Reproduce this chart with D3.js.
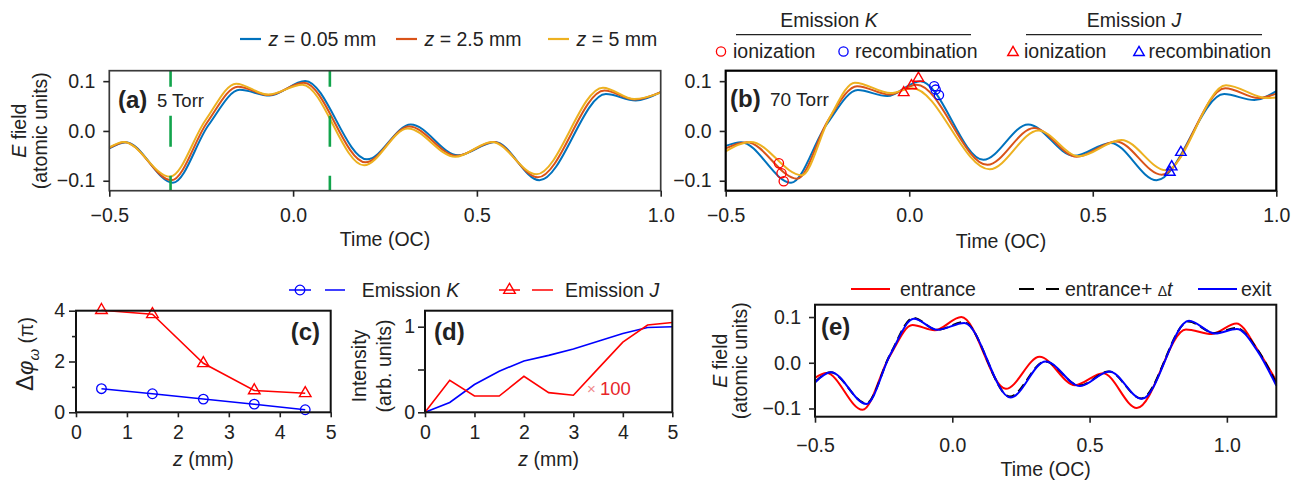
<!DOCTYPE html>
<html>
<head>
<meta charset="utf-8">
<script src="https://cdn.jsdelivr.net/npm/d3@7"></script>
<style>
  body { margin: 0; background: #fff; }
  svg { font-family: "Liberation Sans", Arial, sans-serif; }
</style>
</head>
<body>
<script>
// ---- data ----
const tTicks = [-0.5, 0, 0.5, 1.0];
const eTicks = [-0.1, 0, 0.1];
const zTicks = [0, 1, 2, 3, 4, 5];
const zNames = ["0.05 mm", "2.5 mm", "5 mm"];
const zColors = ["#0072bd", "#d95319", "#edb120"];
const markTimes = [-1 / 3, 0.1];   // green dashed lines in (a)

// (a) 5 Torr : [time (OC), E (a.u.)]
const a_z005 = [[-0.5,-0.035],[-0.455,-0.0225],[-0.327,-0.104],[-0.23,0.012],[-0.145,0.0825],[-0.064,0.071],[0.033,0.1005],[0.201,-0.057],[0.32,0.013],[0.449,-0.049],[0.549,-0.022],[0.67,-0.099],[0.851,0.074],[0.932,0.061],[1.0,0.078]];
const a_z25 = [[-0.5,-0.034],[-0.458,-0.0225],[-0.331,-0.099],[-0.234,0.017],[-0.15,0.089],[-0.066,0.072],[0.029,0.097],[0.197,-0.063],[0.316,0.009],[0.445,-0.05],[0.545,-0.022],[0.666,-0.093],[0.847,0.081],[0.93,0.063],[1.0,0.078]];
const a_z5 = [[-0.5,-0.033],[-0.461,-0.022],[-0.335,-0.092],[-0.238,0.022],[-0.155,0.095],[-0.068,0.073],[0.025,0.093],[0.193,-0.069],[0.312,0.005],[0.441,-0.052],[0.541,-0.022],[0.662,-0.087],[0.843,0.087],[0.928,0.064],[1.0,0.077]];

// (b) 70 Torr
const b_z005 = [[-0.5,-0.03],[-0.458,-0.0225],[-0.322,-0.104],[-0.226,0.012],[-0.14,0.082],[-0.06,0.07],[0.03,0.1],[0.202,-0.058],[0.324,0.013],[0.449,-0.05],[0.549,-0.024],[0.674,-0.099],[0.858,0.074],[0.94,0.062],[1.0,0.08]];
const b_z25 = [[-0.5,-0.035],[-0.443,-0.0225],[-0.305,-0.096],[-0.222,0.02],[-0.142,0.09],[-0.053,0.073],[0.02,0.093],[0.213,-0.068],[0.34,0.006],[0.456,-0.052],[0.563,-0.021],[0.688,-0.088],[0.861,0.086],[0.952,0.066],[1.0,0.075]];
const b_z5 = [[-0.5,-0.041],[-0.432,-0.022],[-0.293,-0.089],[-0.218,0.025],[-0.148,0.097],[-0.05,0.076],[0.008,0.086],[0.219,-0.077],[0.352,0.001],[0.462,-0.051],[0.578,-0.018],[0.699,-0.079],[0.863,0.092],[0.975,0.066],[1.0,0.067]];

// (b) markers
const kIon = [[-0.355,-0.065],[-0.348,-0.085],[-0.342,-0.101]];
const kRec = [[0.068,0.09],[0.072,0.083],[0.081,0.072]];
const jIon = [[-0.015,0.077],[0.006,0.091],[0.025,0.106]];
const jRec = [[0.71,-0.083],[0.715,-0.072],[0.74,-0.043]];

// (c) phase spread vs z
const cZ = [0.5, 1.5, 2.5, 3.5, 4.5];
const cK = [0.93, 0.73, 0.52, 0.32, 0.1];
const cJ = [4.02, 3.86, 1.93, 0.86, 0.75];

// (d) intensity vs z
const dZ = [0, 0.5, 1, 1.5, 2, 2.5, 3, 3.5, 4, 4.5, 5];
const dK = [0, 0.115, 0.325, 0.48, 0.6, 0.665, 0.74, 0.83, 0.92, 0.99, 1.0];
const dJ = [0, 0.375, 0.19, 0.19, 0.42, 0.23, 0.2, 0.51, 0.82, 1.02, 1.05];

// (e) entrance / entrance+dt / exit
const eEntr = [[-0.5,-0.033],[-0.458,-0.0225],[-0.327,-0.103],[-0.23,0.012],[-0.145,0.0825],[-0.064,0.071],[0.033,0.1],[0.195,-0.057],[0.318,0.013],[0.447,-0.049],[0.549,-0.023],[0.672,-0.099],[0.851,0.073],[0.945,0.063],[1.035,0.086],[1.11,0.03],[1.18,-0.04]];
const eShift = [[-0.5,-0.042],[-0.443,-0.021],[-0.314,-0.089],[-0.225,0.02],[-0.142,0.098],[-0.055,0.072],[0.042,0.089],[0.21,-0.074],[0.338,0.003],[0.463,-0.05],[0.57,-0.019],[0.688,-0.078],[0.86,0.09],[0.955,0.065],[1.034,0.076],[1.11,0.03],[1.18,-0.045]];
const eExit = [[-0.5,-0.043],[-0.442,-0.021],[-0.313,-0.09],[-0.225,0.019],[-0.14,0.096],[-0.054,0.072],[0.044,0.087],[0.212,-0.076],[0.34,0.003],[0.465,-0.051],[0.572,-0.019],[0.69,-0.079],[0.862,0.092],[0.957,0.064],[1.036,0.074],[1.11,0.027],[1.18,-0.05]];

// ---- drawing ----
const FS = 19.5;
const svg = d3.select("body").append("svg")
  .attr("width", 1300).attr("height", 485)
  .style("background", "#fff");

function panel(l, r, t, b, xd, yd) {
  return {
    l, r, t, b,
    x: d3.scaleLinear().domain(xd).range([l, r]),
    y: d3.scaleLinear().domain(yd).range([b, t])
  };
}

const pA = panel(109.3, 660.7, 70.7, 190.7, [-0.5, 1.0], [-0.12, 0.121]);
const pB = panel(725.7, 1276.3, 70.7, 190.7, [-0.5, 1.0], [-0.12, 0.121]);
const pC = panel(76, 330.7, 310.7, 412.3, [0, 5], [0, 4]);
const pD = panel(425, 672.3, 310.7, 412.3, [0, 5], [0, 1.187]);
const pE = panel(815, 1276.3, 304.7, 416.7, [-0.5, 1.18], [-0.118, 0.127]);

function tidy(g) {
  g.attr("font-family", null).attr("font-size", FS);
  g.select(".domain").remove();
  g.selectAll("line").attr("stroke", "#222").attr("stroke-width", 1.6);
  g.selectAll("text").attr("fill", "#222");
  return g;
}

function xAxis(p, ticks, fmt, size, pad) {
  tidy(svg.append("g").attr("transform", `translate(0,${p.b})`)
    .call(d3.axisBottom(p.x).tickValues(ticks).tickFormat(fmt).tickSize(size).tickPadding(pad)));
}
function yAxis(p, ticks, fmt, size, pad) {
  tidy(svg.append("g").attr("transform", `translate(${p.l},0)`)
    .call(d3.axisLeft(p.y).tickValues(ticks).tickFormat(fmt).tickSize(size).tickPadding(pad)));
}

function frame(p, col, w) {
  svg.append("rect").attr("x", p.l).attr("y", p.t)
    .attr("width", p.r - p.l).attr("height", p.b - p.t)
    .attr("fill", "none").attr("stroke", col).attr("stroke-width", w);
}

function curve(p, data, col, w, dash) {
  const line = d3.line().x(d => p.x(d[0])).y(d => p.y(d[1])).curve(d3.curveMonotoneX);
  svg.append("path").datum(data).attr("d", line)
    .attr("fill", "none").attr("stroke", col).attr("stroke-width", w)
    .attr("stroke-dasharray", dash || null);
}

function polyline(p, xs, ys, col, w) {
  const line = d3.line().x(d => p.x(d[0])).y(d => p.y(d[1]));
  svg.append("path").datum(xs.map((v, i) => [v, ys[i]])).attr("d", line)
    .attr("fill", "none").attr("stroke", col).attr("stroke-width", w);
}

function circles(p, pts, col, r) {
  svg.append("g").selectAll("circle").data(pts).join("circle")
    .attr("cx", d => p.x(d[0])).attr("cy", d => p.y(d[1])).attr("r", r)
    .attr("fill", "none").attr("stroke", col).attr("stroke-width", 1.3);
}
function triangles(p, pts, col, area) {
  svg.append("g").selectAll("path").data(pts).join("path")
    .attr("d", d3.symbol(d3.symbolTriangle, area))
    .attr("transform", d => `translate(${p.x(d[0])},${p.y(d[1])})`)
    .attr("fill", "none").attr("stroke", col).attr("stroke-width", 1.4);
}

function text(x, y, str, opt = {}) {
  const t = svg.append("text").attr("x", x).attr("y", y).text(str)
    .attr("font-size", opt.size || FS).attr("fill", opt.fill || "#222")
    .attr("text-anchor", opt.anchor || "start");
  if (opt.bold) t.attr("font-weight", "bold");
  return t;
}

const f1 = d3.format(".1f"), fInt = d3.format("d");
const px = { x: v => v, y: v => v };   // identity, for legend symbols

// ---------- panel (a) ----------
[a_z005, a_z25, a_z5].forEach((d, i) => curve(pA, d, zColors[i], 2));
svg.append("g").selectAll("line").data(markTimes).join("line")
  .attr("x1", d => pA.x(d)).attr("x2", d => pA.x(d))
  .attr("y1", pA.t).attr("y2", pA.b)
  .attr("stroke", "#12a44c").attr("stroke-width", 2.6)
  .attr("stroke-dasharray", "31,29").attr("stroke-dashoffset", 15);
frame(pA, "#3a3a3a", 1.7);
xAxis(pA, tTicks, f1, 6, 11.5);
yAxis(pA, eTicks, f1, 6, 8);
text(118, 108, "(a)", { size: 24, bold: true });
text(157, 107, "5 Torr", { size: 18.5 });

// legend of z
const zLegX = [240, 396, 548];
zLegX.forEach((x, i) => {
  svg.append("line").attr("x1", x).attr("x2", x + 21).attr("y1", 39).attr("y2", 39)
    .attr("stroke", zColors[i]).attr("stroke-width", 2.2);
  const t = text(x + 28.5, 46, "");
  t.append("tspan").attr("font-style", "italic").text("z");
  t.append("tspan").text(" = " + zNames[i]);
});

// ---------- panel (b) ----------
[b_z005, b_z25, b_z5].forEach((d, i) => curve(pB, d, zColors[i], 2));
circles(pB, kIon, "#ff0000", 4.6);
circles(pB, kRec, "#0000ff", 4.6);
triangles(pB, jIon, "#ff0000", 48);
triangles(pB, jRec, "#0000ff", 48);
frame(pB, "#000", 2.2);
xAxis(pB, tTicks, f1, 6, 11.5);
yAxis(pB, eTicks, f1, 6, 8);
text(730, 107, "(b)", { size: 24, bold: true });
text(770, 106, "70 Torr", { size: 19 });

// legend (b)
[[829, 736, 971, "K"], [1134, 1026, 1262, "J"]].forEach(([cx, x1, x2, s]) => {
  const t = text(cx, 27, "Emission ", { anchor: "middle" });
  t.append("tspan").attr("font-style", "italic").text(s);
  svg.append("line").attr("x1", x1).attr("x2", x2).attr("y1", 34.7).attr("y2", 34.7)
    .attr("stroke", "#222").attr("stroke-width", 1.2);
});
const legY = 51.5;
circles(px, [[721, legY]], "#ff0000", 4.6);
circles(px, [[843.5, legY]], "#0000ff", 4.6);
triangles(px, [[1013, legY + 1]], "#ff0000", 48);
triangles(px, [[1139, legY + 1]], "#0000ff", 48);
text(733, 58, "ionization");
text(855, 58, "recombination");
text(1024, 58, "ionization");
text(1148.5, 58, "recombination");

// ---------- panel (c) ----------
polyline(pC, cZ, cK, "#0000ff", 1.5);
polyline(pC, cZ, cJ, "#ff0000", 1.5);
circles(pC, cZ.map((z, i) => [z, cK[i]]), "#0000ff", 4.8);
triangles(pC, cZ.map((z, i) => [z, cJ[i]]), "#ff0000", 58);
frame(pC, "#111", 2);
xAxis(pC, zTicks, fInt, 5, 8);
yAxis(pC, [0, 2, 4], fInt, 7, 4);
yAxis(pC, [1, 3], "", 4, 0);
text(320, 340, "(c)", { size: 24, bold: true, anchor: "end" });

// ---------- panel (d) ----------
polyline(pD, dZ, dK, "#0000ff", 1.6);
polyline(pD, dZ, dJ, "#ff0000", 1.6);
frame(pD, "#111", 2);
xAxis(pD, zTicks, fInt, 5, 8);
yAxis(pD, [0, 1], fInt, 7, 3);
yAxis(pD, [0.5], "", 7, 0);
text(434, 340, "(d)", { size: 24, bold: true });
text(587, 394, "\u00d7", { size: 15, fill: "#f08a8a" });
text(600, 395, "100", { size: 18.5, fill: "#e8262a" });

// legend (c)/(d)
const ly = 290;
[[289, 311, 325, 345, "#0000ff"], [499, 520, 532, 553, "#ff0000"]].forEach(([a, b, c, d, col]) => {
  svg.append("line").attr("x1", a).attr("x2", b).attr("y1", ly).attr("y2", ly).attr("stroke", col).attr("stroke-width", 1.5);
  svg.append("line").attr("x1", c).attr("x2", d).attr("y1", ly).attr("y2", ly).attr("stroke", col).attr("stroke-width", 1.5);
});
circles(px, [[300, ly]], "#0000ff", 4.8);
triangles(px, [[509.5, ly]], "#ff0000", 58);
{
  const t1 = text(361.7, 297, "Emission ");
  t1.append("tspan").attr("font-style", "italic").text("K");
  const t2 = text(565, 297, "Emission ");
  t2.append("tspan").attr("font-style", "italic").text("J");
}

// ---------- panel (e) ----------
curve(pE, eEntr, "#ff0000", 2);
curve(pE, eShift, "#000", 2, "9,5");
curve(pE, eExit, "#0000ff", 2);
frame(pE, "#111", 2);
xAxis(pE, tTicks, f1, 6, 15);
yAxis(pE, eTicks, f1, 6, 8);
text(821, 335, "(e)", { size: 24, bold: true });

// legend (e)
const ey = 289;
svg.append("line").attr("x1", 851).attr("x2", 890).attr("y1", ey).attr("y2", ey).attr("stroke", "#ff0000").attr("stroke-width", 2);
svg.append("line").attr("x1", 1019).attr("x2", 1059).attr("y1", ey).attr("y2", ey).attr("stroke", "#000").attr("stroke-width", 2).attr("stroke-dasharray", "15,12");
svg.append("line").attr("x1", 1198).attr("x2", 1237).attr("y1", ey).attr("y2", ey).attr("stroke", "#0000ff").attr("stroke-width", 2);
text(900, 296, "entrance");
{
  const t = text(1065, 296, "entrance+ ");
  t.append("tspan").attr("font-size", 14).text("\u0394");
  t.append("tspan").attr("font-style", "italic").text("t");
}
text(1241, 296, "exit");

// ---------- axis titles ----------
function yTitle(x, y, parts) {
  const t = svg.append("text").attr("transform", `translate(${x},${y}) rotate(-90)`)
    .attr("text-anchor", "middle").attr("font-size", FS).attr("fill", "#222");
  parts.forEach(([s, st]) => {
    const sp = t.append("tspan").text(s);
    if (st) Object.entries(st).forEach(([k, v]) => sp.attr(k, v));
  });
  return t;
}
[[pA, 26, 47], [pE, 727, 747]].forEach(([p, x1, x2]) => {
  const cy = (p.t + p.b) / 2;
  yTitle(x1, cy, [["E", { "font-style": "italic" }], [" field"]]);
  yTitle(x2, cy, [["(atomic units)"]]);
});
yTitle(33, 354, [["\u0394", { "font-size": 24 }], ["\u03c6", { "font-style": "italic", "font-size": 22 }],
  ["\u03c9", { "font-style": "italic", "font-size": 15, dy: 6 }], [" (\u03c0)", { dy: -6 }]]);
yTitle(366, 366, [["Intensity"]]);
yTitle(391, 366, [["(arb. units)"]]);

text((pA.l + pA.r) / 2, 246, "Time (OC)", { anchor: "middle" });
text((pB.l + pB.r) / 2, 248, "Time (OC)", { anchor: "middle" });
text((pE.l + pE.r) / 2, 476, "Time (OC)", { anchor: "middle" });
[pC, pD].forEach(p => {
  const t = text((p.l + p.r) / 2, 466, "", { anchor: "middle" });
  t.append("tspan").attr("font-style", "italic").text("z");
  t.append("tspan").text(" (mm)");
});
</script>
</body>
</html>
